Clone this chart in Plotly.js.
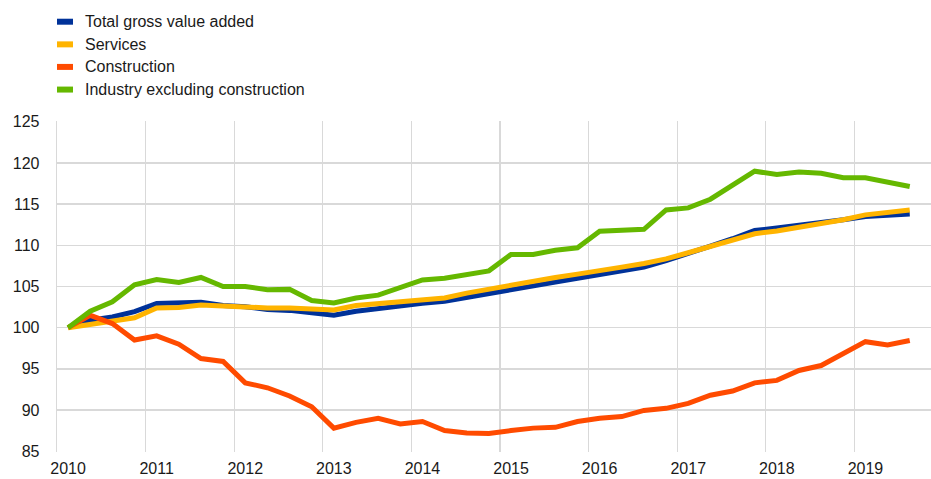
<!DOCTYPE html>
<html>
<head>
<meta charset="utf-8">
<script src="https://cdn.plot.ly/plotly-3.0.1.min.js"></script>
<style>
  html, body { margin: 0; padding: 0; background: #ffffff; }
  #chart { width: 931px; height: 479px; }
</style>
</head>
<body>
<div id="chart"></div>
<script>
// ---- data ----
const quarters = [
  '2010Q1','2010Q2','2010Q3','2010Q4',
  '2011Q1','2011Q2','2011Q3','2011Q4',
  '2012Q1','2012Q2','2012Q3','2012Q4',
  '2013Q1','2013Q2','2013Q3','2013Q4',
  '2014Q1','2014Q2','2014Q3','2014Q4',
  '2015Q1','2015Q2','2015Q3','2015Q4',
  '2016Q1','2016Q2','2016Q3','2016Q4',
  '2017Q1','2017Q2','2017Q3','2017Q4',
  '2018Q1','2018Q2','2018Q3','2018Q4',
  '2019Q1','2019Q2','2019Q3'
];
const totalGVA = [
  100.0, 100.9, 101.3, 101.95,
  102.95, 102.98, 103.1, 102.7,
  102.55, 102.2, 102.1, 101.8,
  101.5, 102.0, 102.35, 102.6,
  102.95, 103.2, 103.7, 104.15,
  104.65, 105.05, 105.55, 106.0,
  106.45, 106.9, 107.35, 108.15,
  108.95, 109.9, 110.8, 111.8,
  112.1, 112.4, 112.7, 113.1,
  113.5, 113.7, 113.8
];
const services = [
  100.0, 100.4, 100.7, 101.2,
  102.4, 102.45, 102.75, 102.6,
  102.6, 102.4, 102.4, 102.35,
  102.15, 102.7, 102.95, 103.15,
  103.4, 103.6, 104.2, 104.7,
  105.1, 105.55, 106.1, 106.5,
  106.85, 107.35, 107.8, 108.35,
  109.1, 109.9, 110.7, 111.4,
  111.75, 112.2, 112.6, 113.1,
  113.7, 114.05, 114.3
];
const construction = [
  100.0, 101.5, 100.5, 98.5,
  99.0, 98.0, 96.25, 95.9,
  93.3, 92.7, 91.7, 90.4,
  87.8, 88.5, 89.0, 88.3,
  88.6, 87.5, 87.2, 87.15,
  87.5, 87.8, 87.9, 88.6,
  89.0, 89.2, 89.95, 90.2,
  90.8, 91.8, 92.3, 93.3,
  93.6, 94.8, 95.4, 96.8,
  98.3, 97.9, 98.45
];
const industryExConstruction = [
  100.0, 102.0, 103.15, 105.2,
  105.85, 105.5, 106.1, 105.0,
  105.0, 104.6, 104.65, 103.3,
  103.0, 103.6, 103.95, 104.8,
  105.8, 106.0, 106.4, 106.9,
  108.9, 108.9, 109.4, 109.7,
  111.7, 111.8, 111.95, 114.3,
  114.55, 115.6, 117.25, 119.0,
  118.6, 118.9, 118.75, 118.2,
  118.2, 117.65, 117.15
];
const seriesNames = ['Total gross value added', 'Services', 'Construction', 'Industry excluding construction'];
const seriesValues = [totalGVA, services, construction, industryExConstruction];
const seriesColors = ['#003299', '#FFB400', '#FF4B00', '#65B800'];
const yearLabels = ['2010','2011','2012','2013','2014','2015','2016','2017','2018','2019'];
const yTicks = [85, 90, 95, 100, 105, 110, 115, 120, 125];

// quarter label -> position on a time axis (middle of the quarter)
function qpos(q) {
  const y = parseInt(q.slice(0, 4), 10);
  const n = parseInt(q.slice(5), 10);
  return y + (n - 1) / 4 + 0.125;
}
const xs = quarters.map(qpos);

// ---- layout geometry (pixels) ----
const W = 931, H = 479;
const ML = 56.5, MR = 0, MT = 120.5, MB = 26.8;
const plotW = W - ML - MR, plotH = H - MT - MB;
const pxX = p => (p - ML) / plotW;
const pxY = p => (H - MB - p) / plotH;

const FONT = 'Liberation Sans, Arial, sans-serif';
const TEXT = '#1a1a1a';
const GRID = '#d9d9d9';

const traces = seriesNames.map((name, i) => ({
  type: 'scatter',
  mode: 'lines',
  name: name,
  x: xs,
  y: seriesValues[i],
  line: { color: seriesColors[i], width: 5 },
  showlegend: false,
  hoverinfo: 'x+y+name'
}));

// manual legend matching the short, flat swatches
const legendRows = [21, 43.7, 66.3, 89];
const shapes = seriesNames.map((n, i) => ({
  type: 'rect', xref: 'paper', yref: 'paper',
  x0: pxX(56.5), x1: pxX(72.5),
  y0: pxY(legendRows[i] + 3), y1: pxY(legendRows[i] - 3),
  fillcolor: seriesColors[i], line: { width: 0 }
}));
const annotations = seriesNames.map((n, i) => ({
  xref: 'paper', yref: 'paper',
  x: pxX(83), y: pxY(legendRows[i]),
  xanchor: 'left', yanchor: 'middle',
  text: n, showarrow: false,
  font: { family: FONT, size: 16, color: TEXT }
}));

const layout = {
  width: W, height: H,
  margin: { l: ML, r: MR, t: MT, b: MB, pad: 0 },
  paper_bgcolor: '#ffffff',
  plot_bgcolor: '#ffffff',
  showlegend: false,
  font: { family: FONT, size: 16, color: TEXT },
  xaxis: {
    range: [2010, 2019.865],
    tickmode: 'array',
    tickvals: yearLabels.map(y => parseInt(y, 10) + 0.125),
    ticktext: yearLabels,
    showgrid: false,
    zeroline: false,
    showline: false,
    ticks: '',
    ticklabelstandoff: 5,
    tickfont: { family: FONT, size: 16, color: TEXT },
    minor: {
      tickmode: 'array',
      tickvals: yearLabels.map(y => parseInt(y, 10)),
      showgrid: true,
      gridcolor: GRID,
      gridwidth: 1.3,
      ticks: ''
    },
    fixedrange: true
  },
  yaxis: {
    range: [84.9, 125.1],
    tickmode: 'array',
    tickvals: yTicks,
    ticktext: yTicks.map(String),
    showgrid: true,
    gridcolor: GRID,
    gridwidth: 1.6,
    zeroline: false,
    showline: true,
    linecolor: GRID,
    linewidth: 1.3,
    ticks: '',
    ticklabelstandoff: 13,
    tickfont: { family: FONT, size: 16, color: TEXT },
    fixedrange: true
  },
  shapes: shapes,
  annotations: annotations
};

Plotly.newPlot('chart', traces, layout, { displayModeBar: false, staticPlot: true });
</script>
</body>
</html>
